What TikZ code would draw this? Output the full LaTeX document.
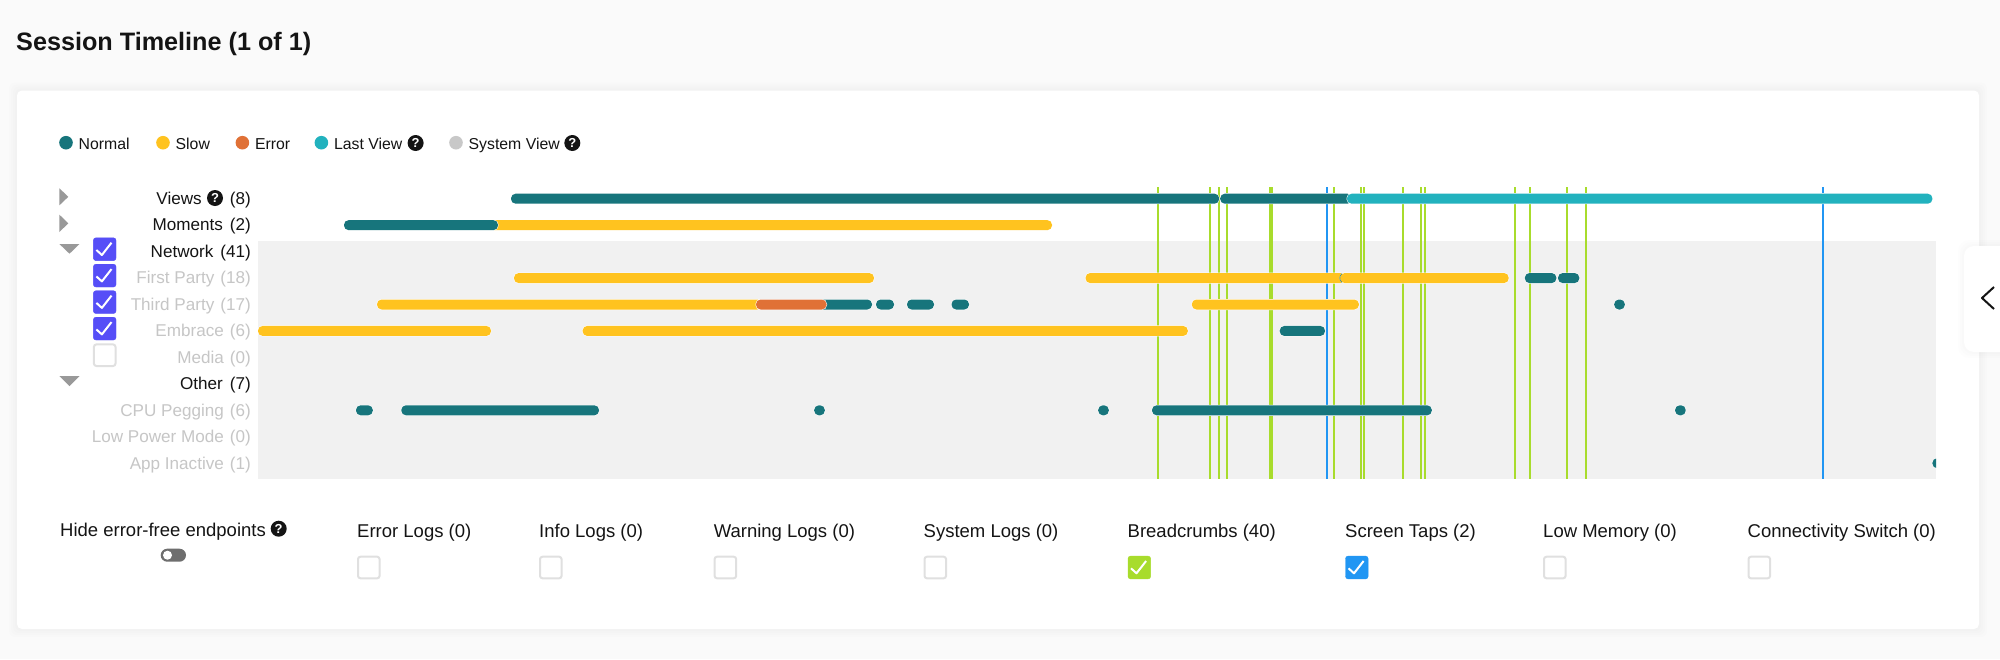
\documentclass[tikz,border=0pt]{standalone}
\usepackage{fontspec}
\setmainfont{Liberation Sans}
\definecolor{tlpage}{HTML}{FAFAFA}
\definecolor{tlband}{HTML}{F1F1F1}
\definecolor{tlteal}{HTML}{17757C}
\definecolor{tllast}{HTML}{22B2BE}
\definecolor{tlslow}{HTML}{FFC31F}
\definecolor{tlerror}{HTML}{E07136}
\definecolor{tlsystem}{HTML}{C8C8C8}
\definecolor{tlcrumb}{HTML}{A8DC2C}
\definecolor{tltap}{HTML}{2196F3}
\definecolor{tlviolet}{HTML}{564EF7}
\definecolor{tlblack}{HTML}{141414}
\definecolor{tlgrey}{HTML}{C6C6C6}
\definecolor{tlbox}{HTML}{E0E0E0}
\definecolor{tlarrow}{HTML}{999999}
\definecolor{tlswitch}{HTML}{6E6E6E}
\tikzset{
    legendtext/.style={anchor=mid west, inner sep=0, text=tlblack, font=\fontsize{15.8}{19}\selectfont},
    rowtext/.style={anchor=mid east, inner sep=0, font=\fontsize{17.1}{20}\selectfont},
    bottomtext/.style={anchor=mid west, inner sep=0, text=tlblack, font=\fontsize{18.5}{22}\selectfont},
    helpicon/.style={circle, fill=tlblack, text=white, inner sep=0, minimum size=16, font=\fontsize{13}{13}\selectfont\bfseries},
}
% one bar of the timeline: colour, row, from, to
\newcommand{\tlbar}[4]{
    \pgfmathsetmacro{\ry}{198.7+26.45*#2}
    \fill[white, rounded corners=5] (#3-0.5,\ry-5.5) rectangle (#4+0.5,\ry+5.5);
    \fill[#1, rounded corners=4.6] (#3,\ry-5) rectangle (#4,\ry+5);
}
% one check box: left, centre height, colour
\newcommand{\tlfull}[3]{
    \draw[#3, fill=#3, rounded corners=2.5] (#1+0.5,#2-11.4) rectangle (#1+23.1,#2+11.4);
    \draw[white, line width=2] (#1+3.5,#2+0.8)--(#1+9,#2+5.8)--(#1+18.6,#2-6.5);
}
\newcommand{\tlempty}[2]{
    \draw[tlbox, line width=2, fill=white, rounded corners=2.5] (#1+1,#2-10.8) rectangle (#1+22.6,#2+10.8);
}
\begin{document}
\begin{tikzpicture}[x=1pt, y=-1pt, line join = round, line cap = butt]
    \useasboundingbox (0,0) rectangle (2000,659);
    \fill[tlpage] (0,0) rectangle (2000,659);

    \node[anchor=mid west, inner sep=0, text=tlblack, font=\fontsize{25.2}{30}\selectfont\bfseries] (title) at (16,48) {Session Timeline (1 of 1)};

    \foreach \s in {2,4,6,8}
        \fill[black, opacity=.006, rounded corners=6] (17-\s,90.5-\s) rectangle (1979+\s,629+\s);
    \fill[white, rounded corners=5] (17,90.5) rectangle (1979,629);

    \foreach \s in {2,4,6}
        \fill[black, opacity=.006, rounded corners=11] (1964-\s,246-\s) rectangle (2020,352+\s);
    \fill[white, rounded corners=10] (1964,246) rectangle (2020,352);
    \draw[tlblack, line width=2] (1994,287)--(1982,298)--(1994,309);

    % legend
    \foreach \x/\c/\t in {66/tlteal/Normal,163/tlslow/Slow,242.4/tlerror/Error,321.4/tllast/Last View,456/tlsystem/System View}{
        \fill[\c] (\x,142.7) circle (6.8);
        \node[legendtext] (legend\c) at (\x+12.5,146.5) {\t};
    }
    \node[helpicon] (helplast) at (415.6,143) {?};
    \node[helpicon] (helpsystem) at (572.3,143) {?};

    % labels on the left
    \fill[tlarrow] (59.4,188.3)--(68.3,196.8)--(59.4,205.3)--cycle;
    \fill[tlarrow] (59.4,214.7)--(68.3,223.3)--(59.4,232)--cycle;
    \fill[tlarrow] (59.4,244)--(79.5,244)--(69.5,253.7)--cycle;
    \fill[tlarrow] (59.4,376)--(79.5,376)--(69.5,386)--cycle;

    \node[rowtext, text=tlblack] (rowviewscount) at (251,201.5) {(8)};
    \node[helpicon] (helpviews) at (215,198) {?};
    \node[rowtext, text=tlblack] (rowviews) at (202,201.5) {Views};
    \foreach \i/\t/\c in {1/Moments\hspace{7pt}(2)/tlblack,2/Network\hspace{7pt}(41)/tlblack,3/First Party\hspace{6pt}(18)/tlgrey,4/Third Party\hspace{6pt}(17)/tlgrey,5/Embrace\hspace{6pt}(6)/tlgrey,6/Media\hspace{6pt}(0)/tlgrey,7/Other\hspace{7pt}(7)/tlblack,8/CPU Pegging\hspace{6pt}(6)/tlgrey,9/Low Power Mode\hspace{6pt}(0)/tlgrey,10/App Inactive\hspace{6pt}(1)/tlgrey}
        \node[rowtext, text=\c] (row\i) at (251,201.5+26.5*\i) {\t};

    \tlfull{92.9}{249.2}{tlviolet}
    \tlfull{92.9}{275.6}{tlviolet}
    \tlfull{92.9}{302.1}{tlviolet}
    \tlfull{92.9}{328.6}{tlviolet}
    \tlempty{92.9}{355.2}

    % timeline
    \fill[tlband] (258,240.7) rectangle (1936,478.7);
    \foreach \x in {1157.5,1209.5,1218.5,1226.5,1269.5,1271.5,1333.5,1360.5,1363.5,1402.5,1420.5,1424.5,1514.5,1529.5,1566.5,1585.5}
        \draw[tlcrumb, line width=2] (\x,187)--(\x,478.7);
    \foreach \x in {1326.5,1822.5}
        \draw[tltap, line width=2] (\x,187)--(\x,478.7);

    \tlbar{tlteal}{0}{511}{1219.2}
    \tlbar{tlteal}{0}{1220.2}{1352}
    \tlbar{tllast}{0}{1347}{1932.4}
    \tlbar{tlslow}{1}{490}{1052}
    \tlbar{tlteal}{1}{344}{498}
    \tlbar{tlslow}{3}{514}{874}
    \tlbar{tlslow}{3}{1085.5}{1345}
    \tlbar{tlslow}{3}{1340}{1508.7}
    \draw[tlteal, line width=0.5] (1342,273.5) .. controls (1339,276) and (1339,280) .. (1342,282.5);
    \tlbar{tlteal}{3}{1524.8}{1556.4}
    \tlbar{tlteal}{3}{1558}{1579.3}
    \tlbar{tlslow}{4}{377}{762}
    \tlbar{tlteal}{4}{815}{872}
    \tlbar{tlerror}{4}{756}{826.5}
    \tlbar{tlteal}{4}{876}{894}
    \tlbar{tlteal}{4}{907}{934}
    \tlbar{tlteal}{4}{951.5}{969}
    \tlbar{tlslow}{4}{1191.8}{1358.9}
    \tlbar{tlteal}{4}{1614.2}{1624.8}
    \tlbar{tlslow}{5}{258}{491}
    \tlbar{tlslow}{5}{582.6}{1187.8}
    \tlbar{tlteal}{5}{1279.7}{1325}
    \tlbar{tlteal}{8}{356}{372.8}
    \tlbar{tlteal}{8}{401.3}{599}
    \tlbar{tlteal}{8}{814.2}{824.8}
    \tlbar{tlteal}{8}{1098.2}{1108.8}
    \tlbar{tlteal}{8}{1152}{1431.8}
    \tlbar{tlteal}{8}{1675.1}{1685.7}
    \begin{scope}
        \clip (1900,450) rectangle (1936,478.7);
        \tlbar{tlteal}{10}{1932.4}{1942.4}
    \end{scope}

    % options below the timeline
    \node[bottomtext] (hide) at (60,533.5) {Hide error-free endpoints};
    \node[helpicon] (helphide) at (278.7,528.7) {?};
    \fill[tlswitch, rounded corners=6.5] (160.7,548.7) rectangle (186,561.7);
    \fill[white] (167.5,555.2) circle (4.5);

    \foreach \x/\t in {357/Error Logs (0),539/Info Logs (0),713.6/Warning Logs (0),923.5/System Logs (0),1127.5/Breadcrumbs (40),1345/Screen Taps (2),1543/Low Memory (0),1747.5/Connectivity Switch (0)}
        \node[bottomtext] (opt\x) at (\x,534.5) {\t};
    \foreach \x in {357,539,713.6,923.5,1543,1747.5}{
        \tlempty{\x}{567.5}
    }
    \tlfull{1127.5}{567.5}{tlcrumb}
    \tlfull{1345}{567.5}{tltap}
\end{tikzpicture}
\end{document}
